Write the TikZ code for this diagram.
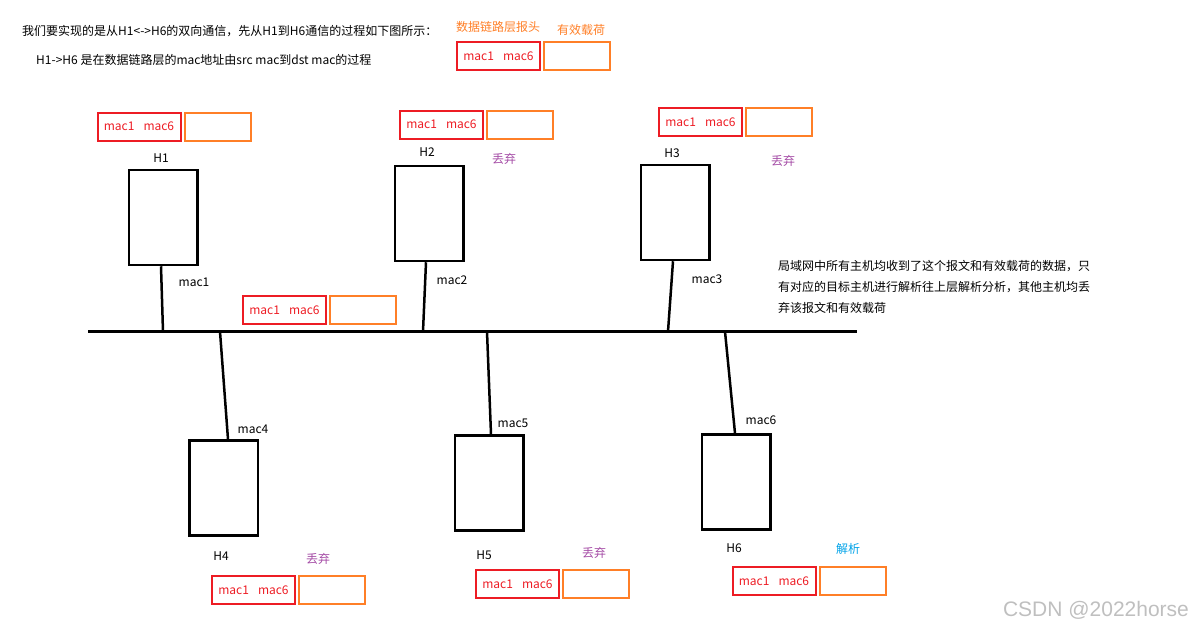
\documentclass[tikz,border=0pt]{standalone}
\usepackage{fontspec}
\setmainfont{Noto Sans CJK SC}
\newfontfamily\wmfont{Liberation Sans}
\usetikzlibrary{positioning}
\definecolor{hdrred}{RGB}{237,28,36}
\definecolor{loadorange}{RGB}{255,127,39}
\definecolor{droppurple}{RGB}{163,73,164}
\definecolor{parseblue}{RGB}{0,162,232}

\begin{document}
\begin{tikzpicture}[x=1pt, y=-1pt,
    font=\fontsize{12}{14}\selectfont,
    host/.style={rectangle, draw, line width=2.5pt, minimum width=68.5pt, minimum height=95pt},
    hdr/.style={rectangle, draw=hdrred, line width=2pt, text=hdrred, minimum width=83pt,
    minimum height=28pt, inner sep=0pt},
    load/.style={rectangle, draw=loadorange, line width=2pt, minimum width=66pt, minimum height=28pt},
    wire/.style={line width=2.5pt},
    txt/.style={inner sep=0pt},
    drop/.style={txt, text=droppurple}]

    \useasboundingbox (0,0) rectangle (1196,630);

    % Intro text
    \node[txt, anchor=west] (intro1) at (22,31) {我们要实现的是从H1<->H6的双向通信，先从H1到H6通信的过程如下图所示：};
    \node[txt, anchor=west] (intro2) at (36,60) {H1->H6 是在数据链路层的mac地址由src mac到dst mac的过程};

    % Frame legend
    \node[hdr] (hdr0) at (498.5,56) {mac1\hspace{9pt}mac6};
    \node[load, right=2pt of hdr0] (load0) {};
    \node[txt, text=loadorange] (hdrtxt) at (498,27) {数据链路层报头};
    \node[txt, text=loadorange] (loadtxt) at (581,30) {有效载荷};

    % Bus
    \coordinate (busL) at (88,331.5);
    \coordinate (busR) at (857,331.5);
    \draw[wire] (busL) -- (busR);

    % H1
    \node[host] (h1) at (163,217.5) {};
    \node[txt] (h1name) at (161,158) {H1};
    \node[txt] (mac1) at (194,282) {mac1};
    \node[hdr] (hdr1) at (139,126.5) {mac1\hspace{9pt}mac6};
    \node[load, right=2pt of hdr1] (load1) {};
    \coordinate (t1) at (163,331.5);
    \draw[wire] ([xshift=-2pt]h1.south) -- (t1);

    % Frame on the bus
    \node[hdr] (hdrm) at (284.5,310) {mac1\hspace{9pt}mac6};
    \node[load, right=2pt of hdrm] (loadm) {};

    % H2
    \node[host] (h2) at (429,213.5) {};
    \node[txt] (h2name) at (427,152) {H2};
    \node[drop] (drop2) at (504,159) {丢弃};
    \node[txt] (mac2) at (452,280) {mac2};
    \node[hdr] (hdr2) at (441.5,124.5) {mac1\hspace{9pt}mac6};
    \node[load, right=2pt of hdr2] (load2) {};
    \coordinate (t2) at (423,331.5);
    \draw[wire] ([xshift=-3pt]h2.south) -- (t2);

    % H3
    \node[host] (h3) at (675,212.5) {};
    \node[txt] (h3name) at (672,153) {H3};
    \node[drop] (drop3) at (783,161) {丢弃};
    \node[txt] (mac3) at (707,279) {mac3};
    \node[hdr] (hdr3) at (700.5,122) {mac1\hspace{9pt}mac6};
    \node[load, right=2pt of hdr3] (load3) {};
    \coordinate (t3) at (668,331.5);
    \draw[wire] ([xshift=-2pt]h3.south) -- (t3);

    % H4
    \node[host] (h4) at (223.5,488) {};
    \node[txt] (h4name) at (221,556) {H4};
    \node[drop] (drop4) at (318,559) {丢弃};
    \node[txt] (mac4) at (253,429) {mac4};
    \node[hdr] (hdr4) at (253.5,590) {mac1\hspace{9pt}mac6};
    \node[load, right=2pt of hdr4] (load4) {};
    \coordinate (t4) at (220,331.5);
    \draw[wire] (t4) -- ([xshift=4.5pt]h4.north);

    % H5
    \node[host] (h5) at (489,483) {};
    \node[txt] (h5name) at (484,555) {H5};
    \node[drop] (drop5) at (594,553) {丢弃};
    \node[txt] (mac5) at (513,423) {mac5};
    \node[hdr] (hdr5) at (517.5,584) {mac1\hspace{9pt}mac6};
    \node[load, right=2pt of hdr5] (load5) {};
    \coordinate (t5) at (487,331.5);
    \draw[wire] (t5) -- ([xshift=2pt]h5.north);

    % H6 (target)
    \node[host] (h6) at (736,482) {};
    \node[txt] (h6name) at (734,548) {H6};
    \node[txt, text=parseblue] (parse6) at (848,549) {解析};
    \node[txt] (mac6) at (761,420) {mac6};
    \node[hdr] (hdr6) at (774,581) {mac1\hspace{9pt}mac6};
    \node[load, right=2pt of hdr6] (load6) {};
    \coordinate (t6) at (725,331.5);
    \draw[wire] (t6) -- ([xshift=-1pt]h6.north);

    % Note
    \node[txt, anchor=west, align=left, font=\fontsize{12}{21}\selectfont] (note) at (778,287)
        {局域网中所有主机均收到了这个报文和有效载荷的数据，只\\
         有对应的目标主机进行解析往上层解析分析，其他主机均丢\\
         弃该报文和有效载荷};

    % Watermark
    \node[txt, text=black!25, font=\wmfont\fontsize{21}{24}\selectfont] (wm) at (1096,610) {CSDN @2022horse};
\end{tikzpicture}
\end{document}
